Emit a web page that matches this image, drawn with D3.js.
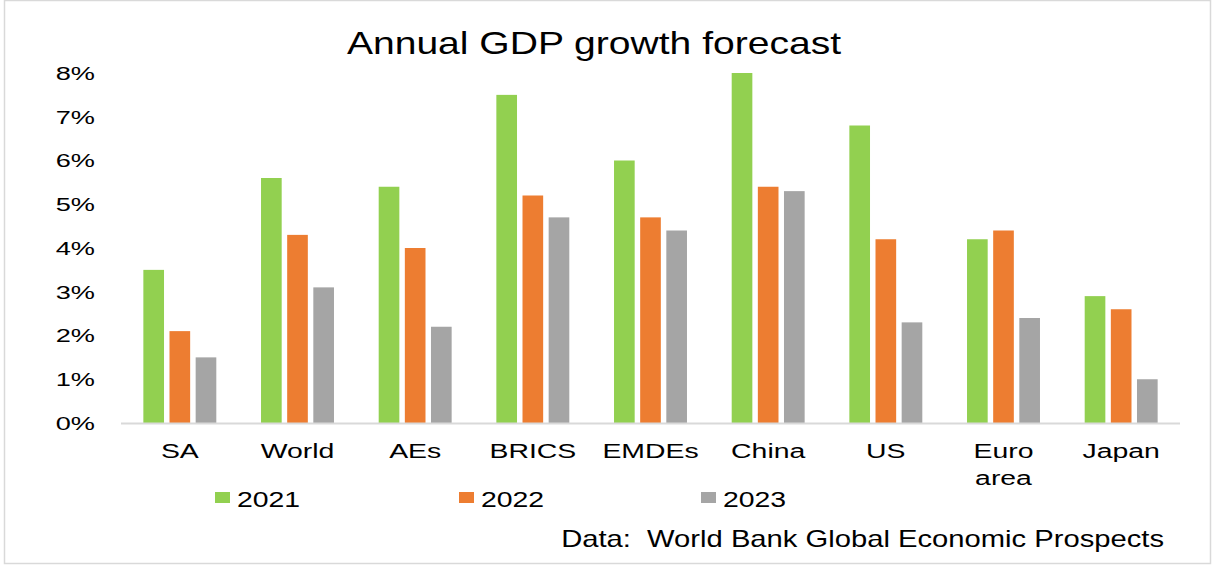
<!DOCTYPE html>
<html>
<head>
<meta charset="utf-8">
<script src="https://cdn.jsdelivr.net/npm/d3@7"></script>
<style>
  body { margin: 0; background: #fff; }
  text { font-family: "Liberation Sans", Arial, sans-serif; fill: #000; }
</style>
</head>
<body>
<svg id="chart"></svg>
<script>
// categories and series (GDP growth, %)
var categories = ["SA", "World", "AEs", "BRICS", "EMDEs", "China", "US", "Euro area", "Japan"];
var years = ["2021", "2022", "2023"];
var values2021 = [3.5, 5.6, 5.4, 7.5, 6.0, 8.0, 6.8, 4.2, 2.9];
var values2022 = [2.1, 4.3, 4.0, 5.2, 4.7, 5.4, 4.2, 4.4, 2.6];
var values2023 = [1.5, 3.1, 2.2, 4.7, 4.4, 5.3, 2.3, 2.4, 1.0];
var yTicks = [0, 1, 2, 3, 4, 5, 6, 7, 8];
var colors = ["#92d050", "#ed7d31", "#a5a5a5"];

var W = 1216, H = 567;
var margin = {top: 73, right: 36, bottom: 144, left: 121},
    width = W - margin.left - margin.right,
    height = H - margin.top - margin.bottom;

// the source picture has wide lettering, so text gets stretched sideways
var stretchAxis = 1.43, stretchCat = 1.42, stretchTitle = 1.26, stretchLegend = 1.29, stretchNote = 1.27;

var series = [values2021, values2022, values2023];
var data = categories.map(function(c, i) {
  return {name: c, vals: series.map(function(s, j) { return {year: years[j], value: s[i], k: j}; })};
});

var svg = d3.select("#chart").attr("width", W).attr("height", H);

// outer border
svg.append("rect")
    .attr("x", 4.5).attr("y", 0.5)
    .attr("width", 1206).attr("height", 563)
    .attr("fill", "#fff")
    .attr("stroke", "#d9d9d9")
    .attr("stroke-width", 1.5);

svg.append("text")
    .attr("transform", "translate(594,54) scale(" + stretchTitle + ",1)")
    .attr("text-anchor", "middle")
    .style("font-size", "31px")
    .text("Annual GDP growth forecast");

var g = svg.append("g")
    .attr("transform", "translate(" + margin.left + "," + margin.top + ")");

var x0 = d3.scaleBand()
    .range([0, width])
    .paddingInner(0.38)
    .paddingOuter(0.19)
    .domain(categories);

var x1 = d3.scaleBand()
    .range([0, x0.bandwidth()])
    .paddingInner(0.21)
    .domain(years);

var y = d3.scaleLinear()
    .range([height, 0])
    .domain([0, 8]);

// y labels (no axis line)
g.selectAll(".ylab")
    .data(yTicks)
  .enter().append("text")
    .attr("class", "ylab")
    .attr("transform", function(d) { return "translate(-26," + y(d) + ") scale(" + stretchAxis + ",1)"; })
    .attr("dy", "0.36em")
    .attr("text-anchor", "end")
    .style("font-size", "19px")
    .text(function(d) { return d + "%"; });

// bars
var groups = g.selectAll(".grp")
    .data(data)
  .enter().append("g")
    .attr("class", "grp")
    .attr("transform", function(d) { return "translate(" + x0(d.name) + ",0)"; });

groups.selectAll("rect")
    .data(function(d) { return d.vals; })
  .enter().append("rect")
    .attr("x", function(d) { return x1(d.year); })
    .attr("width", x1.bandwidth())
    .attr("y", function(d) { return y(d.value); })
    .attr("height", function(d) { return height - y(d.value); })
    .attr("fill", function(d) { return colors[d.k]; });

// x axis baseline
g.append("line")
    .attr("x1", 0).attr("x2", width)
    .attr("y1", height + 0.5).attr("y2", height + 0.5)
    .attr("stroke", "#d9d9d9")
    .attr("stroke-width", 2);

// category labels, wrapped on spaces for "Euro area"
g.selectAll(".xlab")
    .data(categories)
  .enter().append("text")
    .attr("class", "xlab")
    .attr("transform", function(d) {
      return "translate(" + (x0(d) + x0.bandwidth() / 2) + "," + (height + 35) + ") scale(" + stretchCat + ",1)";
    })
    .attr("text-anchor", "middle")
    .style("font-size", "20px")
    .each(function(d) {
      var t = d3.select(this);
      d.split(" ").forEach(function(p, i) {
        t.append("tspan")
          .attr("x", 0)
          .attr("y", i * 27)
          .text(p);
      });
    });

// legend
var legendX = [215, 459, 701];
var legend = svg.selectAll(".leg")
    .data(years)
  .enter().append("g")
    .attr("class", "leg")
    .attr("transform", function(d, i) { return "translate(" + legendX[i] + ",492)"; });

legend.append("rect")
    .attr("width", 15).attr("height", 11)
    .attr("fill", function(d, i) { return colors[i]; });

legend.append("text")
    .attr("transform", "translate(22,15) scale(" + stretchLegend + ",1)")
    .style("font-size", "22px")
    .text(function(d) { return d; });

svg.append("text")
    .attr("transform", "translate(1164,547) scale(" + stretchNote + ",1)")
    .attr("text-anchor", "end")
    .attr("xml:space", "preserve")
    .style("white-space", "pre")
    .style("font-size", "23px")
    .text("Data:  World Bank Global Economic Prospects");
</script>
</body>
</html>
